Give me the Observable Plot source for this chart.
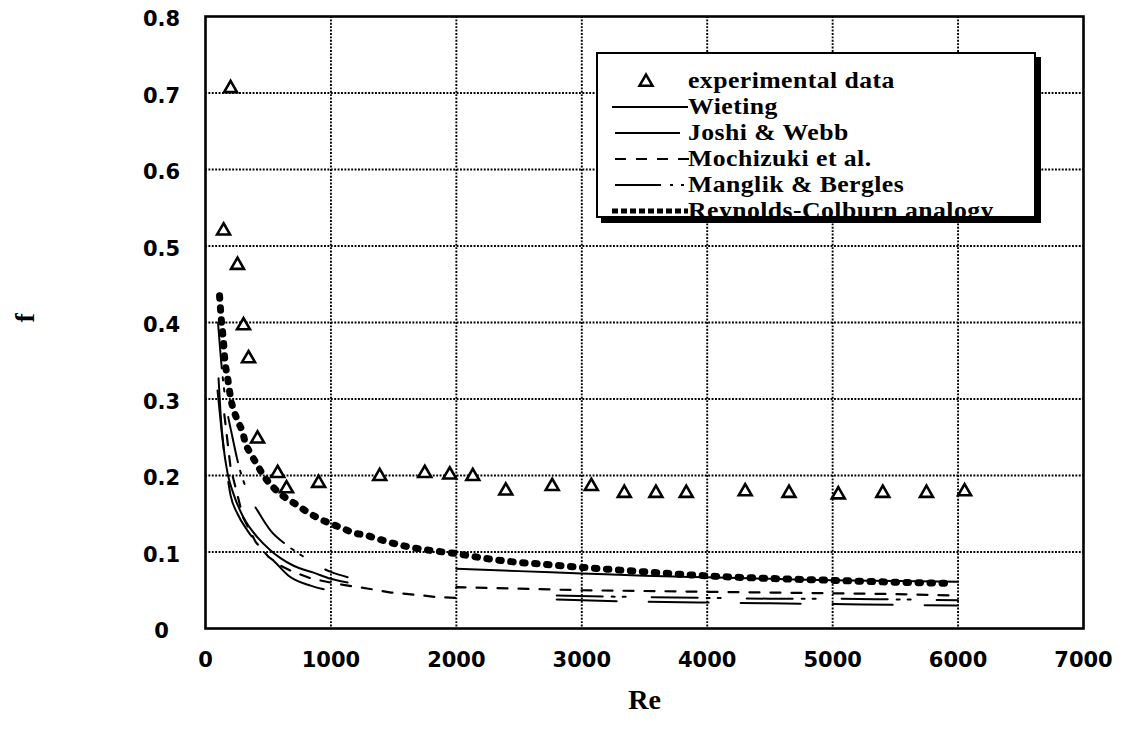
<!DOCTYPE html>
<html>
<head>
<meta charset="utf-8">
<script src="https://cdn.jsdelivr.net/npm/d3@7"></script>
<script src="https://cdn.jsdelivr.net/npm/@observablehq/plot@0.6"></script>
<style>
  body { margin: 0; background: #fff; }
  #wrap { position: relative; width: 1122px; height: 744px; overflow: hidden; }
  #chart svg { display: block; }
  .legend { position: absolute; left: 596px; top: 52px; width: 440px; height: 166px;
            border: 2px solid #000; box-shadow: 5px 5px 0 #000; background: #fff; box-sizing: border-box; }
  .legend .row { position: absolute; left: 0; height: 26px; width: 100%; }
  .legend .row svg { position: absolute; left: 0; top: 0; }
  .legend .row span { position: absolute; left: 90px; top: 50%; transform-origin: 0 50%; transform: translateY(-52%) scaleX(1.1);
            font-family: "Liberation Serif", "Times New Roman", serif; font-weight: bold; font-size: 23.4px;
            line-height: 1; white-space: nowrap; color: #000; letter-spacing: 0.4px; }
</style>
</head>
<body>
<div id="wrap">
  <div id="chart"></div>
  <div class="legend" id="legend"></div>
</div>
<script>
// ---------- data ----------
const xTicks = [0, 1000, 2000, 3000, 4000, 5000, 6000, 7000];
const yTicks = [0, 0.1, 0.2, 0.3, 0.4, 0.5, 0.6, 0.7, 0.8];
const yTickLabels = ["0", "0.1", "0.2", "0.3", "0.4", "0.5", "0.6", "0.7", "0.8"];

const seriesNames = ["experimental data", "Wieting", "Joshi & Webb", "Mochizuki et al.", "Manglik & Bergles", "Reynolds-Colburn analogy"];

// experimental data (triangles)
const expRe = [144, 200, 255, 303, 343, 415, 575, 646, 902, 1389, 1748, 1947, 2131, 2394, 2764, 3076, 3339, 3591, 3833, 4303, 4652, 5045, 5400, 5748, 6052];
const expF  = [0.520, 0.706, 0.475, 0.396, 0.353, 0.248, 0.203, 0.183, 0.190, 0.199, 0.203, 0.201, 0.199, 0.180, 0.186, 0.186, 0.177, 0.177, 0.177, 0.179, 0.177, 0.175, 0.177, 0.177, 0.179];

// Wieting (laminar part and turbulent part)
const wietLamRe = [104, 120, 144, 176, 223, 303, 415, 519, 598, 702, 862, 998, 1133];
const wietLamF  = [0.327, 0.281, 0.237, 0.203, 0.176, 0.145, 0.119, 0.102, 0.092, 0.082, 0.073, 0.065, 0.060];
const wietTurRe = [2000, 2500, 3000, 3500, 4000, 4500, 5000, 5500, 6000];
const wietTurF  = [0.078, 0.075, 0.072, 0.069, 0.067, 0.065, 0.063, 0.062, 0.061];

// Joshi & Webb
const joshiLamRe = [96, 128, 168, 200, 255, 335, 439, 559, 662, 838, 1133];
const joshiLamF  = [0.311, 0.259, 0.207, 0.174, 0.150, 0.128, 0.106, 0.086, 0.069, 0.056, 0.047];
const joshiTurRe = [2800, 3500, 4000, 4500, 5000, 5500, 6000];
const joshiTurF  = [0.038, 0.035, 0.034, 0.033, 0.032, 0.031, 0.030];

// Mochizuki et al.
const mochRe = [150, 200, 300, 400, 500, 600, 700, 850, 1000, 1100, 1300, 1480, 1680, 1850, 2000, 2000, 2500, 3000, 3500, 4000, 4500, 5000, 5500, 6000];
const mochF  = [0.280, 0.210, 0.145, 0.113, 0.094, 0.082, 0.074, 0.065, 0.060, 0.057, 0.052, 0.047, 0.044, 0.041, 0.040, 0.054, 0.052, 0.050, 0.049, 0.048, 0.047, 0.046, 0.045, 0.043];

// Manglik & Bergles
const mangLamRe = [100, 130, 160, 215, 270, 343, 430, 519, 640, 780, 894, 1000, 1133];
const mangLamF  = [0.400, 0.340, 0.298, 0.250, 0.210, 0.176, 0.150, 0.128, 0.110, 0.094, 0.082, 0.074, 0.067];
const mangTurRe = [2800, 3500, 4000, 4500, 5000, 5500, 6000];
const mangTurF  = [0.043, 0.041, 0.040, 0.039, 0.039, 0.038, 0.037];

// Reynolds-Colburn analogy
const rcRe = [112, 128, 144, 152, 176, 200, 255, 295, 319, 359, 415, 463, 543, 638, 734, 814, 902, 998, 1093, 1181, 1277, 1357, 1580, 1796, 1995, 2218, 2458, 2697, 2993, 3336, 3974, 4988, 5387, 5945];
const rcF  = [0.435, 0.400, 0.374, 0.355, 0.328, 0.302, 0.272, 0.257, 0.242, 0.229, 0.213, 0.200, 0.184, 0.171, 0.161, 0.152, 0.144, 0.137, 0.131, 0.125, 0.122, 0.118, 0.108, 0.102, 0.098, 0.092, 0.087, 0.084, 0.080, 0.076, 0.069, 0.063, 0.061, 0.059];

// ---------- build tables ----------
const zip = (xs, ys) => xs.map((x, i) => ({Re: x, f: ys[i]}));
const exp = zip(expRe, expF);

const styles = {
  wieting: {stroke: "#000", strokeWidth: 2},
  joshi:   {stroke: "#000", strokeWidth: 2, strokeDasharray: "60,32"},
  moch:    {stroke: "#000", strokeWidth: 2.2, strokeDasharray: "10,11"},
  mang:    {stroke: "#000", strokeWidth: 2, strokeDasharray: "46,9,3,8,3,26"},
  rc:      {stroke: "#000", strokeWidth: 7, strokeDasharray: "2.5,9.5", strokeLinecap: "round"}
};
const gridStyle = {stroke: "#000", strokeOpacity: 1, strokeWidth: 1.9, strokeDasharray: "1.9,1.5"};
const tickFont = "'DejaVu Sans', Verdana, sans-serif";
const serifFont = "'Liberation Serif', 'Times New Roman', serif";

const lineOpts = (s) => ({x: "Re", y: "f", curve: "monotone-x", ...s});

const chart = Plot.plot({
  width: 1122,
  height: 744,
  marginLeft: 205,
  marginRight: 39,
  marginTop: 16,
  marginBottom: 116,
  x: {domain: [0, 7000]},
  y: {domain: [0, 0.8]},
  style: {fontFamily: tickFont, fontSize: "21px", fontWeight: "bold", color: "#000", background: "transparent"},
  marks: [
    Plot.gridX(xTicks.slice(1, -1), gridStyle),
    Plot.gridY(yTicks.slice(1, -1), gridStyle),
    Plot.line(zip(wietLamRe, wietLamF), lineOpts(styles.wieting)),
    Plot.line(zip(wietTurRe, wietTurF), lineOpts(styles.wieting)),
    Plot.line(zip(joshiLamRe, joshiLamF), lineOpts(styles.joshi)),
    Plot.line(zip(joshiTurRe, joshiTurF), lineOpts(styles.joshi)),
    Plot.line(zip(mochRe, mochF), {x: "Re", y: "f", ...styles.moch}),
    Plot.line(zip(mangLamRe, mangLamF), lineOpts(styles.mang)),
    Plot.line(zip(mangTurRe, mangTurF), lineOpts(styles.mang)),
    Plot.line(zip(rcRe, rcF), lineOpts(styles.rc)),
    Plot.dot(exp, {x: "Re", y: "f", symbol: "triangle", r: 4.8, stroke: "#000", strokeWidth: 2.6, fill: "#fff"}),
    Plot.frame({stroke: "#000", strokeWidth: 2.6}),
    Plot.axisX({ticks: xTicks, tickSize: 0, tickPadding: 24, label: null, fontSize: 21, fontFamily: tickFont,
                tickFormat: (d) => String(d)}),
    Plot.axisY({ticks: yTicks, tickSize: 0, tickPadding: 44, textAnchor: "middle", dy: 3, label: null, fontFamily: tickFont,
                tickFormat: (d) => yTickLabels[yTicks.indexOf(d)] ?? String(d)}),
    Plot.text(["Re"], {frameAnchor: "bottom", dy: 80, text: (d) => d, fontFamily: serifFont, fontSize: 28, fontWeight: "bold"}),
    Plot.text(["f"], {frameAnchor: "left", dx: -180, rotate: -90, text: (d) => d, fontFamily: serifFont, fontSize: 28, fontWeight: "bold"})
  ]
});
document.getElementById("chart").appendChild(chart);

// ---------- legend ----------
const legend = d3.select("#legend");
const rowTop = (i) => 14 + i * 26;
const swatch = [
  (g) => g.append("path").attr("d", d3.symbol(d3.symbolTriangle, 72)()).attr("transform", "translate(48,14)")
          .attr("fill", "#fff").attr("stroke", "#000").attr("stroke-width", 2.6),
  (g) => g.append("line").attr("x1", 14).attr("x2", 90).attr("y1", 13).attr("y2", 13).attr("stroke", "#000").attr("stroke-width", 2),
  (g) => g.append("line").attr("x1", 17).attr("x2", 82).attr("y1", 13).attr("y2", 13).attr("stroke", "#000").attr("stroke-width", 2),
  (g) => g.append("line").attr("x1", 17).attr("x2", 91).attr("y1", 13).attr("y2", 13).attr("stroke", "#000").attr("stroke-width", 2.2).attr("stroke-dasharray", "11,10"),
  (g) => g.append("line").attr("x1", 17).attr("x2", 90).attr("y1", 13).attr("y2", 13).attr("stroke", "#000").attr("stroke-width", 2).attr("stroke-dasharray", "46,9,3,8,3,30"),
  (g) => g.append("line").attr("x1", 14).attr("x2", 90).attr("y1", 13).attr("y2", 13).attr("stroke", "#000").attr("stroke-width", 5).attr("stroke-dasharray", "6,3")
];
seriesNames.forEach((name, i) => {
  const row = legend.append("div").attr("class", "row").style("top", rowTop(i) + "px");
  const svg = row.append("svg").attr("width", 92).attr("height", 26);
  swatch[i](svg);
  row.append("span").text(name);
});
</script>
</body>
</html>
